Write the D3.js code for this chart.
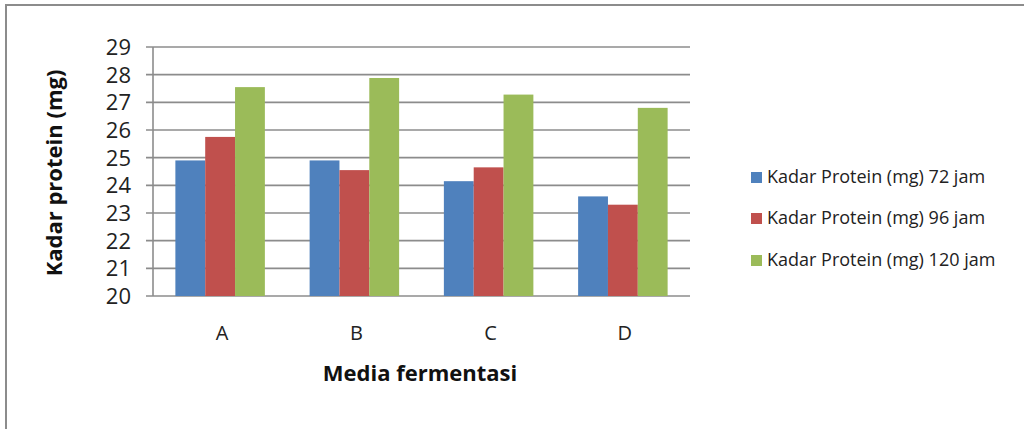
<!DOCTYPE html>
<html><head><meta charset="utf-8">
<script src="https://cdn.jsdelivr.net/npm/d3@7"></script>
<style>body{margin:0;background:#fff}svg{display:block}</style>
</head><body>
<script>
const categories = ["A","B","C","D"];
const seriesNames = ["Kadar Protein (mg) 72 jam","Kadar Protein (mg) 96 jam","Kadar Protein (mg) 120 jam"];
const values72 = [24.9, 24.9, 24.15, 23.6];
const values96 = [25.75, 24.55, 24.65, 23.3];
const values120 = [27.55, 27.88, 27.28, 26.8];
const yTicks = [20,21,22,23,24,25,26,27,28,29];
const colors = ["#4F81BD","#C0504D","#9BBB59"];
const seriesValues = [values72, values96, values120];

const W = 1024, H = 429;
const svg = d3.select("body").append("svg").attr("width", W).attr("height", H);
const font = "'Open Sans', sans-serif";

// outer border
svg.append("rect").attr("x",6).attr("y",5).attr("width",W+10).attr("height",H+10)
  .attr("fill","none").attr("stroke","#8c8c8c").attr("stroke-width",2);

const x0 = d3.scaleBand().domain(categories).range([153,690]).paddingInner(0).paddingOuter(0);
const x1 = d3.scaleBand().domain([0,1,2]).range([0, x0.bandwidth()]).paddingInner(0).paddingOuter(0.75);
const y = d3.scaleLinear().domain([20,29]).range([296,47]);

// gridlines
svg.append("g").selectAll("line").data(yTicks).join("line")
  .attr("x1",146).attr("x2",690).attr("y1",d=>y(d)).attr("y2",d=>y(d))
  .attr("stroke","#8c8c8c").attr("stroke-width",1.6);
// y axis line
svg.append("line").attr("x1",153).attr("x2",153).attr("y1",y(29)).attr("y2",y(20))
  .attr("stroke","#8c8c8c").attr("stroke-width",1.6);

// y tick labels
svg.append("g").selectAll("text").data(yTicks).join("text")
  .attr("x",131).attr("y",d=>y(d)).attr("dy","0.36em").attr("text-anchor","end")
  .attr("font-family",font).attr("font-size",22).attr("fill","#222").text(d=>d);

// bars
categories.forEach((c,i)=>{
  seriesValues.forEach((vals,s)=>{
    svg.append("rect").attr("x",x0(c)+x1(s)).attr("width",x1.bandwidth())
      .attr("y",y(vals[i])).attr("height",y(20)-y(vals[i])).attr("fill",colors[s]);
  });
});

// x labels
svg.append("g").selectAll("text").data(categories).join("text")
  .attr("x",d=>x0(d)+x0.bandwidth()/2+2).attr("y",333).attr("dy","0.36em").attr("text-anchor","middle")
  .attr("font-family",font).attr("font-size",20).attr("fill","#222").text(d=>d);

// axis titles
svg.append("text").attr("x",420).attr("y",373).attr("dy","0.36em").attr("text-anchor","middle")
  .attr("font-family",font).attr("font-weight","bold").attr("font-size",22).attr("fill","#111").text("Media fermentasi");
svg.append("text").attr("transform","translate(54,173) rotate(-90)").attr("dy","0.36em").attr("text-anchor","middle")
  .attr("font-family",font).attr("font-weight","bold").attr("font-size",22).attr("fill","#111").text("Kadar protein (mg)");

// legend
const ly = [177,218,260];
seriesNames.forEach((n,s)=>{
  svg.append("rect").attr("x",751).attr("y",ly[s]-5).attr("width",11).attr("height",11).attr("fill",colors[s]);
  svg.append("text").attr("x",767).attr("y",ly[s]).attr("dy","0.36em")
    .attr("font-family",font).attr("font-size",18).attr("fill","#222").text(n);
});
</script>
</body></html>
